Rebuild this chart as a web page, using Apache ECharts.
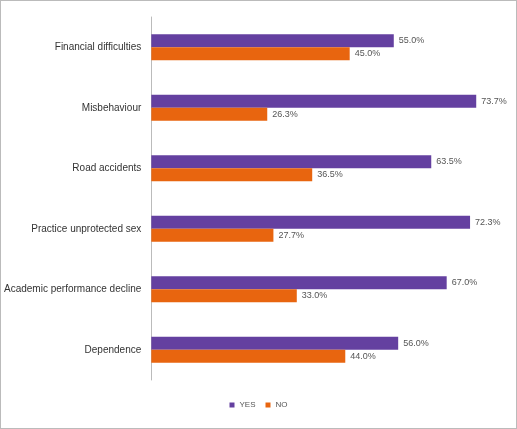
<!DOCTYPE html>
<html><head><meta charset="utf-8">
<script src="https://cdn.jsdelivr.net/npm/echarts@6/dist/echarts.min.js"></script>
<style>html,body{margin:0;padding:0;background:#fff}#c{width:517px;height:429px;box-sizing:border-box;border:1px solid #bbb}</style>
</head><body><div id="c"></div>
<script>
const categories=["Financial difficulties","Misbehaviour","Road accidents","Practice unprotected sex","Academic performance decline","Dependence"];
const yesValues=[55.0,73.7,63.5,72.3,67.0,56.0];
const noValues=[45.0,26.3,36.5,27.7,33.0,44.0];
const chart=echarts.init(document.getElementById('c'));
const lbl={show:true,position:'right',fontSize:9,color:'#555',fontFamily:'Liberation Sans Narrow, Liberation Sans',formatter:p=>p.value.toFixed(1)+'%'};
chart.setOption({
 animation:false,
 textStyle:{fontFamily:'Liberation Sans'},
 grid:{left:150,right:12,top:16,bottom:48},
 legend:{bottom:14,icon:'rect',itemWidth:5,itemHeight:5,itemGap:10,textStyle:{fontSize:8,color:'#555'},data:['YES','NO']},
 xAxis:{type:'value',min:0,max:80,show:false},
 yAxis:{type:'category',inverse:true,data:categories,axisLine:{lineStyle:{color:'#bbb'}},axisTick:{show:false},axisLabel:{fontSize:10,color:'#333',margin:10}},
 series:[
  {name:'YES',type:'bar',data:yesValues,barWidth:13,barGap:'0%',itemStyle:{color:'#6440a0'},label:lbl},
  {name:'NO',type:'bar',data:noValues,barWidth:13,itemStyle:{color:'#e8650f'},label:lbl}
 ]
});
</script></body></html>
